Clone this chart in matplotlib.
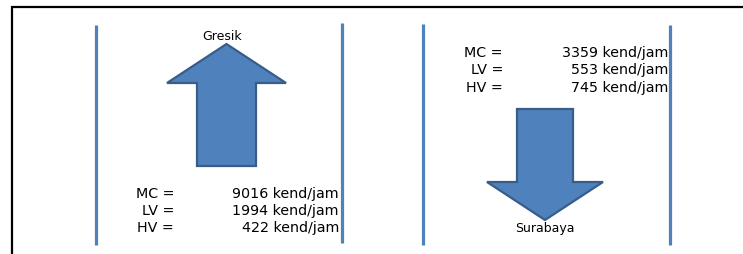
import matplotlib
matplotlib.use("Agg")
import matplotlib.pyplot as plt
from matplotlib.patches import Polygon

# ---- data ----
directions = ["Gresik", "Surabaya"]
vehicle_types = ["MC", "LV", "HV"]
gresik_volumes = [9016, 1994, 422]
surabaya_volumes = [3359, 553, 745]
unit = "kend/jam"

W, H = 743, 255
fig = plt.figure(figsize=(W / 100, H / 100), dpi=100)
ax = fig.add_axes([0, 0, 1, 1])
ax.set_xlim(0, W)
ax.set_ylim(H, 0)
ax.axis("off")

FONT = "DejaVu Sans"
FS = 10.3
FS_LABEL = 9.0
blue = "#4F81BD"
edge = "#385D8A"

# outer frame (top and left visible)
ax.plot([11, W + 5], [7.5, 7.5], color="black", lw=1.6, solid_capstyle="butt")
ax.plot([11.5, 11.5], [7, H + 5], color="black", lw=1.6, solid_capstyle="butt")

# road edge lines
for x, y0, y1 in [(96, 26, 246), (342, 24, 244), (423, 25, 246), (670, 26, 246)]:
    ax.plot([x, x], [y0, y1], color=blue, lw=2.3, solid_capstyle="butt")


def arrow(cx, shaft_w, head_w, y_tail, y_neck, y_tip):
    hw, sw = head_w / 2, shaft_w / 2
    pts = [(cx - sw, y_tail), (cx - sw, y_neck), (cx - hw, y_neck), (cx, y_tip),
           (cx + hw, y_neck), (cx + sw, y_neck), (cx + sw, y_tail)]
    ax.add_patch(Polygon(pts, closed=True, facecolor=blue, edgecolor=edge, lw=1.6,
                         joinstyle="miter"))


# up arrow (to Gresik)
arrow(226.5, 59, 119, 167, 84, 45)
# down arrow (to Surabaya)
arrow(545, 56, 116, 110, 183, 221)

ax.text(222, 36, directions[0], ha="center", va="center", fontsize=FS_LABEL, family=FONT)
ax.text(545, 229, directions[1], ha="center", va="center", fontsize=FS_LABEL, family=FONT)


def table(label_right, value_right, y0, dy, values):
    for i, (t, v) in enumerate(zip(vehicle_types, values)):
        y = y0 + i * dy
        ax.text(label_right, y, f"{t} =", ha="right", va="center", fontsize=FS, family=FONT)
        ax.text(value_right, y, f"{v} {unit}", ha="right", va="center", fontsize=FS, family=FONT)


table(174, 339, 194, 17, gresik_volumes)
table(503, 668, 53, 17.5, surabaya_volumes)

fig.savefig("out.png", dpi=100)
